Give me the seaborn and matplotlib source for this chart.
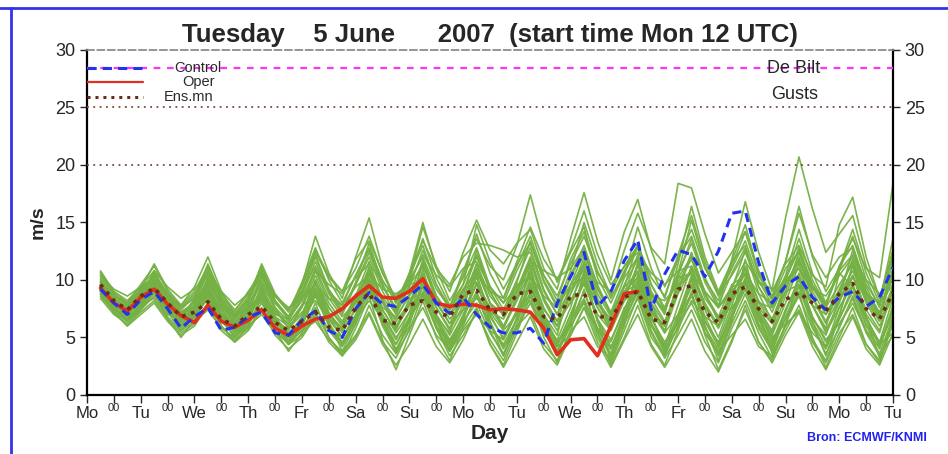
import numpy as np
import pandas as pd
import matplotlib
matplotlib.use("Agg")
import matplotlib.pyplot as plt
import seaborn as sns
from matplotlib.lines import Line2D

# forecast steps: every 6 h from Mon 18 UTC (day 0.25) to day 15
steps = np.arange(1, 61) * 0.25

day_names = ["Mo", "Tu", "We", "Th", "Fr", "Sa", "Su", "Mo", "Tu", "We", "Th", "Fr", "Sa", "Su", "Mo", "Tu"]

control = [9.2, 8.0, 7.0, 8.3, 9.0, 7.5, 5.8, 6.8, 7.6, 5.6, 5.9, 6.8,
           7.2, 5.4, 5.2, 6.5, 7.3, 5.6, 5.0, 7.5, 8.9, 7.9, 7.7, 8.6,
           9.6, 8.0, 7.1, 8.5, 7.0, 5.9, 5.4, 5.4, 5.8, 4.5, 8.0, 10.3,
           12.4, 7.7, 9.0, 11.7, 13.5, 7.4, 10.5, 12.6, 12.2, 10.3, 12.5, 15.8,
           16.0, 11.5, 8.0, 9.5, 10.3, 8.5, 7.4, 8.5, 9.0, 7.7, 8.5, 11.1]

oper = [9.3, 8.0, 7.3, 8.5, 9.2, 7.9, 6.9, 6.3, 7.8, 6.4, 5.9, 6.5,
        7.4, 5.8, 5.2, 6.0, 6.6, 6.8, 7.5, 8.6, 9.5, 8.5, 8.4, 9.0,
        10.1, 8.0, 7.7, 7.9, 7.8, 7.4, 7.5, 7.4, 7.2, 5.8, 3.5, 4.8,
        4.9, 3.4, 6.0, 8.8, 9.0]

ens_mean = [9.6, 8.2, 7.4, 8.6, 9.3, 8.0, 6.8, 7.2, 8.1, 6.6, 6.0, 7.0,
            7.7, 6.3, 5.6, 6.4, 7.2, 5.9, 5.6, 7.6, 8.9, 6.5, 6.2, 7.8,
            8.2, 7.2, 6.8, 8.8, 9.1, 7.4, 7.0, 8.8, 9.0, 6.8, 6.6, 8.6,
            8.8, 6.9, 6.6, 8.5, 9.0, 6.6, 6.3, 9.2, 9.5, 7.2, 6.3, 8.8,
            9.4, 7.5, 6.4, 8.3, 8.9, 8.0, 7.3, 8.8, 9.7, 7.5, 6.6, 8.9]

# ensemble members, one row per member (4 values per day: 18, 00, 06, 12 UTC)
members = [
    [10.2, 8.6, 7.8, 9.0, 10.0, 8.4, 7.0, 7.6, 9.0, 7.0, 6.2, 7.4, 8.4, 6.8, 6.0, 7.2, 8.2, 6.6, 5.8, 8.0,
     9.8, 7.6, 6.8, 8.6, 10.4, 8.2, 7.4, 9.2, 10.8, 8.0, 7.0, 9.6, 10.2, 7.4, 6.0, 8.8, 11.0, 8.0, 6.6, 9.4,
     10.6, 7.2, 6.0, 9.8, 11.8, 8.4, 6.8, 9.6, 10.4, 7.6, 6.2, 9.0, 9.6, 7.8, 7.0, 8.8, 10.8, 8.2, 6.4, 9.0],
    [8.6, 7.4, 6.6, 7.8, 8.4, 6.8, 5.6, 6.4, 7.4, 5.8, 5.0, 6.0, 7.0, 5.4, 4.6, 5.6, 6.4, 4.8, 3.8, 5.2,
     7.2, 4.6, 3.2, 5.8, 7.6, 5.2, 4.0, 6.4, 8.0, 5.4, 3.6, 6.0, 7.2, 4.4, 3.0, 5.6, 6.8, 4.2, 3.2, 6.2,
     8.4, 5.0, 3.4, 6.8, 8.8, 5.4, 3.8, 5.2, 6.6, 4.2, 3.4, 6.0, 7.4, 4.6, 2.8, 5.4, 7.0, 4.4, 3.0, 6.6],
    [10.8, 9.0, 8.0, 9.6, 11.2, 9.0, 7.6, 8.4, 11.4, 8.6, 7.2, 9.0, 10.6, 8.0, 6.8, 9.4, 12.6, 10.4, 9.0, 11.0,
     13.8, 10.6, 8.4, 10.0, 12.0, 9.2, 7.6, 10.8, 13.6, 11.2, 10.0, 13.0, 17.4, 13.0, 9.8, 12.4, 14.6, 10.2, 8.0, 10.6,
     12.8, 9.0, 7.2, 10.4, 13.6, 10.0, 8.2, 11.6, 14.8, 10.6, 8.4, 10.2, 12.6, 9.4, 7.6, 9.6, 11.4, 8.4, 6.6, 10.8],
    [9.4, 8.0, 7.2, 8.2, 9.6, 7.8, 6.4, 7.2, 10.2, 7.6, 5.8, 6.6, 9.6, 6.8, 5.2, 6.4, 9.2, 6.6, 5.0, 6.8,
     10.6, 7.4, 5.4, 7.2, 11.8, 8.6, 6.6, 8.0, 10.2, 7.2, 5.6, 7.0, 8.8, 6.2, 4.8, 7.6, 11.6, 8.2, 6.0, 8.8,
     12.2, 8.0, 5.4, 7.0, 9.4, 6.4, 4.6, 7.8, 11.0, 7.0, 4.8, 6.6, 9.0, 6.6, 5.2, 8.4, 12.6, 9.0, 6.8, 11.8],
    [9.8, 8.4, 7.6, 8.8, 9.2, 7.4, 6.0, 7.0, 8.6, 6.8, 5.6, 6.8, 9.2, 7.2, 6.2, 7.8, 10.8, 8.0, 6.4, 8.6,
     11.6, 8.2, 6.0, 8.0, 9.8, 7.0, 5.2, 7.4, 11.4, 8.6, 7.2, 9.2, 12.0, 8.4, 6.4, 8.0, 9.6, 7.0, 5.6, 8.2,
     11.4, 8.6, 7.4, 10.6, 13.2, 9.8, 7.6, 9.4, 11.6, 9.8, 9.2, 15.4, 20.7, 16.2, 12.4, 14.0, 15.6, 11.2, 8.4, 12.0],
    [9.0, 7.6, 6.8, 7.6, 8.8, 7.2, 6.2, 7.0, 9.2, 7.0, 5.4, 6.2, 8.0, 6.0, 4.8, 5.8, 7.6, 5.6, 4.2, 6.2,
     9.0, 6.2, 4.4, 6.8, 9.4, 6.4, 4.6, 6.2, 8.6, 6.0, 4.4, 6.6, 9.8, 6.6, 4.6, 6.0, 8.2, 5.6, 4.0, 7.0,
     10.0, 6.6, 4.6, 6.4, 8.6, 5.8, 4.0, 6.8, 9.2, 6.0, 4.0, 7.2, 10.2, 6.8, 4.8, 6.2, 8.0, 5.6, 4.2, 7.4],
    [10.6, 8.8, 7.8, 9.2, 11.4, 9.2, 7.8, 9.4, 12.0, 9.0, 7.0, 8.6, 11.2, 8.2, 6.6, 9.6, 13.8, 10.6, 8.4, 12.0,
     15.4, 11.0, 8.0, 10.4, 13.0, 9.6, 7.4, 9.6, 12.2, 9.0, 7.0, 9.8, 13.4, 9.8, 7.6, 10.2, 12.6, 9.2, 7.0, 9.6,
     11.8, 8.4, 6.4, 9.2, 12.4, 8.8, 6.6, 8.6, 11.2, 8.0, 6.2, 9.0, 12.4, 9.0, 7.0, 9.2, 11.6, 8.6, 6.8, 9.4],
    [9.2, 7.2, 6.0, 7.4, 9.0, 6.6, 5.0, 6.6, 8.8, 6.0, 4.6, 6.0, 8.6, 5.6, 3.8, 5.4, 8.0, 5.0, 3.4, 5.8,
     8.6, 4.8, 2.2, 5.2, 8.2, 5.0, 3.0, 5.8, 7.6, 4.4, 2.6, 5.4, 8.6, 5.0, 2.8, 5.6, 9.2, 5.4, 2.6, 5.0,
     7.8, 4.4, 2.6, 5.6, 9.0, 5.2, 2.2, 4.8, 7.4, 4.6, 3.0, 6.2, 8.8, 5.0, 2.4, 5.0, 7.6, 4.4, 2.8, 6.2],
    [9.6, 8.2, 7.2, 8.4, 10.4, 8.4, 7.0, 8.2, 10.8, 8.2, 6.6, 7.8, 10.0, 7.6, 6.4, 8.6, 11.6, 8.8, 7.0, 9.6,
     12.4, 9.4, 7.6, 10.2, 14.6, 11.2, 9.0, 12.4, 15.2, 12.6, 11.4, 13.2, 14.4, 11.0, 9.2, 13.6, 17.6, 13.4, 10.0, 14.2,
     17.0, 12.6, 9.4, 12.0, 13.8, 10.2, 7.8, 10.6, 12.8, 9.4, 7.6, 10.0, 13.6, 10.0, 7.8, 10.8, 12.2, 9.0, 7.2, 10.2],
    [9.0, 7.8, 7.0, 8.0, 9.8, 8.0, 6.8, 7.8, 9.4, 7.2, 6.0, 7.2, 8.8, 6.6, 5.4, 6.6, 9.8, 7.0, 5.4, 7.6,
     10.2, 7.0, 5.0, 6.6, 8.6, 6.0, 4.4, 7.0, 9.6, 6.8, 5.0, 7.4, 10.6, 7.0, 4.6, 6.4, 8.4, 5.4, 3.4, 6.6,
     9.2, 6.2, 4.2, 7.8, 11.2, 7.4, 5.0, 8.4, 10.0, 7.0, 5.2, 8.0, 11.4, 7.8, 5.4, 7.6, 9.6, 6.6, 4.6, 8.4],
    [10.0, 8.4, 7.4, 8.6, 9.4, 7.6, 6.4, 7.6, 9.8, 7.8, 6.4, 7.6, 10.4, 8.0, 6.6, 8.2, 11.0, 8.4, 6.8, 8.0,
     10.8, 8.2, 6.6, 8.8, 11.6, 8.6, 7.0, 9.0, 12.0, 9.4, 8.0, 10.8, 13.2, 10.4, 8.6, 11.4, 13.8, 10.6, 8.8, 12.6,
     15.8, 12.8, 11.4, 18.4, 18.0, 14.0, 10.6, 12.4, 14.2, 10.4, 8.2, 11.0, 12.4, 9.6, 7.8, 11.2, 13.6, 11.0, 10.2, 18.4],
    [8.8, 7.6, 6.8, 7.8, 9.0, 7.4, 6.0, 6.8, 8.4, 6.4, 5.2, 6.4, 9.4, 6.8, 5.0, 6.0, 8.6, 6.0, 4.4, 6.6,
     9.6, 6.4, 4.0, 6.0, 10.2, 6.8, 4.8, 6.8, 9.0, 6.2, 4.2, 5.8, 8.0, 5.4, 3.8, 6.6, 10.4, 6.6, 4.2, 6.4,
     9.0, 5.6, 3.4, 6.0, 10.0, 6.4, 4.2, 7.4, 9.6, 6.2, 4.4, 6.6, 8.6, 5.8, 4.0, 6.6, 9.4, 6.2, 4.4, 7.0],
    [10.4, 8.8, 7.8, 8.8, 10.6, 8.6, 7.2, 8.0, 10.0, 7.8, 6.2, 7.4, 9.8, 7.4, 5.8, 7.6, 10.4, 7.6, 6.0, 8.4,
     11.0, 8.0, 5.8, 7.8, 11.4, 8.2, 6.2, 8.6, 12.6, 9.0, 6.8, 9.0, 11.8, 8.4, 6.4, 9.6, 12.4, 8.8, 6.8, 9.4,
     13.2, 9.6, 7.4, 10.2, 12.0, 9.0, 7.6, 11.8, 16.8, 12.4, 9.0, 11.4, 13.0, 10.4, 9.4, 14.8, 17.2, 12.0, 8.4, 12.6],
    [8.4, 7.0, 6.2, 7.2, 8.2, 6.6, 5.4, 6.2, 8.0, 6.0, 4.8, 5.8, 7.6, 5.6, 4.4, 5.6, 7.2, 5.0, 3.6, 5.0,
     7.8, 5.2, 3.6, 5.6, 8.8, 5.8, 3.4, 5.2, 7.2, 4.8, 3.0, 5.8, 9.0, 5.8, 3.6, 6.0, 8.0, 5.0, 2.8, 5.6,
     8.6, 5.4, 3.2, 5.2, 7.4, 4.6, 2.8, 5.8, 8.2, 5.4, 3.2, 5.6, 7.8, 4.8, 3.0, 6.0, 8.4, 5.4, 3.4, 5.2],
    [9.2, 7.8, 7.0, 8.4, 10.8, 8.6, 7.2, 8.0, 10.6, 8.4, 7.0, 8.2, 11.4, 8.8, 7.4, 9.0, 11.2, 9.0, 7.8, 10.4,
     12.8, 10.0, 8.0, 10.6, 13.4, 11.0, 9.6, 12.0, 13.2, 13.0, 12.6, 12.0, 12.4, 9.0, 7.0, 9.2, 11.2, 8.0, 6.0, 8.6,
     10.8, 7.6, 5.6, 8.8, 11.0, 7.8, 5.8, 8.2, 10.6, 7.4, 5.4, 8.6, 11.8, 8.4, 6.2, 8.4, 10.4, 7.4, 5.6, 9.2],
    [9.4, 8.0, 7.4, 8.6, 9.6, 8.0, 6.8, 7.4, 9.6, 7.4, 6.0, 7.0, 10.4, 7.6, 5.8, 7.0, 10.0, 7.2, 5.6, 7.4,
     11.2, 8.2, 6.4, 8.0, 10.6, 7.6, 5.8, 8.4, 11.4, 8.0, 5.8, 8.2, 10.8, 7.6, 5.6, 8.8, 12.0, 8.4, 6.2, 9.0,
     10.2, 7.4, 6.0, 9.4, 10.6, 7.6, 6.0, 9.2, 12.6, 8.8, 6.4, 9.8, 11.0, 7.8, 5.6, 8.0, 11.2, 8.0, 6.0, 8.6],
    [9.0, 7.6, 6.6, 7.8, 9.4, 7.4, 6.2, 7.2, 9.0, 6.8, 5.4, 6.6, 9.0, 6.6, 5.2, 6.8, 9.4, 6.8, 5.0, 7.0,
     10.0, 6.8, 4.8, 7.2, 9.4, 6.6, 4.6, 6.8, 10.4, 7.0, 4.8, 7.2, 9.4, 6.4, 4.2, 7.0, 9.8, 6.6, 4.8, 7.4,
     10.4, 6.8, 4.4, 6.2, 8.0, 5.4, 3.6, 6.6, 9.8, 6.6, 4.6, 7.4, 10.0, 6.8, 4.6, 6.6, 9.0, 6.0, 4.0, 7.8],
    [10.6, 9.0, 8.2, 9.4, 10.2, 8.6, 7.6, 8.8, 10.4, 8.0, 6.6, 8.0, 10.8, 8.2, 6.8, 8.8, 12.2, 9.2, 7.4, 9.6,
     12.0, 9.0, 7.0, 9.4, 12.6, 9.6, 7.6, 10.4, 14.0, 10.6, 8.4, 11.2, 13.8, 10.4, 8.2, 11.8, 14.2, 10.8, 8.4, 10.8,
     13.0, 9.6, 7.6, 10.6, 15.2, 11.2, 8.6, 11.0, 13.4, 10.0, 7.8, 10.4, 14.4, 10.6, 8.0, 10.8, 13.8, 10.0, 7.6, 12.4],
    [9.8, 8.2, 7.2, 8.2, 10.0, 7.8, 6.4, 7.4, 9.2, 7.0, 5.6, 6.8, 8.6, 6.4, 5.0, 6.2, 8.8, 6.2, 4.6, 6.4,
     9.4, 6.0, 3.8, 6.4, 9.0, 6.0, 3.8, 6.0, 8.8, 5.6, 3.4, 6.2, 9.6, 6.2, 3.6, 6.4, 9.0, 5.8, 3.6, 6.8,
     9.8, 6.2, 3.6, 6.6, 9.6, 6.0, 3.4, 6.2, 8.8, 5.8, 3.8, 6.8, 9.4, 6.0, 3.6, 5.8, 8.6, 5.6, 3.6, 6.8],
    [10.0, 8.4, 7.6, 9.0, 10.6, 8.8, 7.4, 8.6, 11.0, 8.4, 6.8, 8.4, 10.8, 8.2, 6.8, 9.0, 12.0, 9.0, 7.2, 9.8,
     13.2, 9.6, 7.2, 10.6, 15.0, 11.0, 8.2, 10.2, 12.8, 9.4, 7.4, 10.0, 12.8, 9.2, 7.0, 10.4, 13.0, 9.4, 7.2, 10.2,
     12.0, 8.8, 7.0, 11.4, 16.4, 12.0, 9.0, 11.6, 13.0, 9.4, 7.2, 10.0, 12.8, 9.6, 7.8, 11.2, 13.0, 9.4, 7.0, 11.0],
    [9.6, 8.6, 8.0, 8.8, 9.8, 8.2, 7.0, 7.8, 8.8, 7.6, 6.8, 7.6, 8.2, 7.0, 6.6, 8.4, 9.6, 8.4, 7.8, 9.4,
     10.4, 9.2, 8.8, 9.6, 10.0, 8.0, 6.2, 7.4, 8.4, 7.2, 6.6, 8.8, 11.6, 10.8, 10.2, 11.0, 12.8, 9.6, 7.0, 8.2,
     9.4, 8.6, 8.2, 9.6, 10.8, 8.8, 6.8, 7.6, 9.2, 8.0, 7.6, 9.8, 11.6, 9.4, 7.4, 8.2, 10.2, 8.8, 8.0, 9.6],
    [8.8, 7.2, 6.4, 7.4, 8.6, 7.0, 6.6, 7.4, 8.2, 6.6, 5.6, 6.8, 8.8, 6.2, 4.4, 5.2, 7.0, 5.8, 5.0, 6.6,
     8.2, 6.6, 5.8, 7.8, 8.6, 5.8, 3.8, 5.6, 7.0, 5.6, 4.8, 7.2, 8.2, 6.0, 4.2, 5.2, 7.6, 5.8, 4.6, 7.6,
     8.8, 6.0, 4.0, 5.8, 8.2, 6.8, 6.0, 8.6, 9.8, 7.2, 5.0, 6.2, 7.2, 5.4, 4.2, 7.6, 9.6, 6.6, 4.4, 5.4],
    [10.4, 9.2, 8.6, 9.4, 10.8, 9.4, 8.4, 9.2, 10.6, 9.0, 7.8, 8.8, 10.2, 8.6, 7.6, 8.4, 10.8, 9.6, 8.8, 10.2,
     11.4, 9.8, 8.6, 9.8, 12.2, 10.4, 9.4, 11.0, 11.6, 9.4, 8.0, 9.4, 10.4, 8.6, 7.6, 9.6, 11.4, 9.8, 9.0, 11.2,
     12.4, 10.6, 9.6, 10.8, 11.2, 9.0, 7.6, 9.0, 10.6, 8.8, 8.0, 10.0, 11.0, 9.2, 8.6, 10.4, 12.0, 10.0, 8.8, 10.0],
    [9.4, 7.6, 6.4, 7.6, 10.2, 7.6, 5.8, 7.0, 9.6, 6.8, 5.0, 6.4, 9.2, 6.2, 4.6, 6.6, 10.0, 6.4, 3.8, 6.2,
     10.8, 6.6, 3.6, 6.6, 11.0, 6.8, 3.8, 6.4, 10.6, 6.4, 3.4, 6.8, 11.2, 6.8, 3.8, 6.2, 10.8, 6.4, 3.0, 6.0,
     11.6, 7.0, 3.8, 6.6, 10.2, 6.0, 3.0, 6.4, 11.8, 7.0, 3.6, 6.0, 10.6, 6.4, 3.4, 6.8, 11.4, 6.8, 3.2, 6.4],
    [9.0, 7.8, 7.2, 8.6, 9.2, 7.8, 6.8, 8.2, 9.8, 7.8, 6.2, 7.4, 9.0, 7.2, 6.2, 7.8, 9.8, 7.6, 6.2, 8.2,
     10.6, 8.4, 7.2, 9.6, 11.2, 8.6, 7.0, 8.2, 10.6, 9.0, 8.4, 11.6, 14.6, 11.8, 10.0, 12.6, 16.0, 12.2, 9.6, 11.2,
     13.0, 10.2, 8.6, 11.8, 14.4, 11.0, 8.8, 10.4, 12.4, 9.8, 8.4, 11.6, 15.8, 12.2, 10.2, 12.0, 12.8, 9.6, 7.8, 12.6],
    [8.6, 7.2, 6.0, 7.0, 8.0, 6.4, 5.2, 6.0, 7.8, 5.6, 4.6, 5.6, 7.4, 5.2, 4.0, 5.0, 6.8, 4.6, 3.4, 4.8,
     7.0, 4.4, 2.6, 4.4, 6.6, 4.2, 2.8, 4.8, 7.4, 4.4, 2.4, 4.6, 6.8, 4.0, 2.6, 5.2, 7.6, 4.6, 2.4, 4.8,
     7.0, 4.2, 2.4, 4.4, 6.6, 3.8, 2.0, 4.6, 7.8, 4.6, 2.8, 5.2, 7.2, 4.2, 2.2, 4.6, 6.8, 4.0, 2.6, 5.4],
    [9.4, 8.4, 7.6, 9.2, 9.0, 7.6, 6.6, 8.4, 8.4, 7.0, 6.0, 8.0, 8.0, 6.6, 5.6, 7.8, 8.6, 7.0, 5.8, 8.8,
     9.2, 7.4, 5.6, 8.4, 8.8, 6.8, 5.4, 9.2, 9.8, 7.6, 5.8, 8.6, 9.2, 7.0, 5.2, 9.6, 10.2, 7.6, 5.6, 9.0,
     9.6, 7.2, 5.4, 10.2, 10.6, 8.0, 6.0, 9.4, 9.8, 7.4, 5.6, 9.8, 10.4, 7.8, 5.8, 10.6, 9.4, 7.0, 5.4, 9.6],
    [9.8, 8.6, 8.0, 9.2, 10.4, 8.8, 7.8, 9.0, 11.2, 8.8, 7.4, 8.8, 11.0, 8.6, 7.2, 9.8, 12.8, 10.0, 8.0, 10.4,
     12.6, 9.6, 7.4, 10.0, 13.6, 10.2, 7.8, 9.6, 14.8, 11.6, 9.2, 11.4, 13.2, 10.0, 7.8, 10.8, 15.0, 11.4, 8.6, 10.4,
     14.6, 11.0, 8.4, 12.2, 15.6, 11.6, 8.8, 11.2, 14.2, 10.8, 8.6, 11.6, 16.4, 12.0, 9.0, 11.0, 14.4, 10.6, 8.0, 13.6],
    [9.0, 7.4, 6.4, 7.6, 9.4, 7.2, 5.6, 6.8, 9.0, 6.6, 5.0, 6.2, 8.4, 6.0, 4.4, 6.0, 9.0, 6.2, 4.4, 6.6,
     9.8, 6.6, 4.4, 6.4, 9.6, 6.4, 4.2, 6.6, 9.8, 6.4, 4.0, 6.6, 10.2, 6.8, 4.4, 7.0, 10.0, 6.4, 4.0, 7.2,
     9.4, 6.2, 4.2, 7.0, 10.4, 6.8, 4.4, 7.0, 10.2, 6.6, 4.2, 7.4, 9.6, 6.4, 4.2, 7.0, 10.4, 6.8, 4.4, 7.6],
    [9.6, 8.0, 7.0, 8.0, 9.8, 7.8, 6.6, 7.6, 10.2, 8.0, 6.8, 8.2, 10.8, 8.6, 7.4, 9.4, 12.4, 10.2, 9.0, 11.8,
     13.4, 10.6, 8.2, 9.2, 10.4, 7.6, 5.6, 7.8, 11.0, 8.0, 6.0, 8.4, 11.4, 8.2, 6.0, 8.2, 10.6, 7.6, 5.8, 8.6,
     11.2, 8.0, 6.2, 9.0, 12.2, 8.8, 6.4, 8.8, 11.0, 8.2, 6.6, 9.4, 12.0, 8.6, 6.4, 9.0, 11.8, 8.8, 7.0, 10.6],
]

green = "#74b043"
blue = "#2233ee"
red = "#e2301e"
brown = "#6e2c16"

sns.set_theme(style="white")
plt.rcParams["font.family"] = ["Liberation Sans", "DejaVu Sans"]

fig = plt.figure(figsize=(9.48, 4.54), dpi=100)
ax = fig.add_axes([0.0918, 0.130, 0.8502, 0.760])

ens = pd.DataFrame([(m, t, v) for m, row in enumerate(members) for t, v in zip(steps, row)],
                   columns=["member", "day", "gust"])
sns.lineplot(data=ens, x="day", y="gust", units="member", estimator=None,
             color=green, lw=1.2, alpha=0.95, ax=ax, legend=False)

ax.axhline(28.4, color="#ff33ff", ls=(0, (3, 3)), lw=1.6, zorder=3)
for lev in (25, 20):
    ax.axhline(lev, color="#7a4a3a", ls=(0, (1, 2.5)), lw=1.3, zorder=3)

sns.lineplot(x=steps[:len(oper)], y=oper, color=red, lw=2.6, ax=ax, zorder=5)
sns.lineplot(x=steps, y=control, color=blue, lw=2.2, ls=(0, (3, 2)), ax=ax, zorder=6)
sns.lineplot(x=steps, y=ens_mean, color=brown, lw=2.6, ls=(0, (1, 1.6)), ax=ax, zorder=7)

# key in the upper left corner
key = [("Control", blue, (0, (3, 2)), 0.948, 0.138), ("Oper", red, "-", 0.907, 0.138),
       ("Ens.mn", brown, (0, (1, 1.6)), 0.864, 0.126)]
for name, col, style, yk, xk in key:
    ax.add_line(Line2D([0.0, 0.07], [yk, yk], transform=ax.transAxes, color=col, ls=style,
                       lw=2.2 if name != "Oper" else 1.6, zorder=8))
    ax.text(xk, yk, name, transform=ax.transAxes, ha="center", va="center", fontsize=10.5,
            color="#2a2a2a", zorder=9)

ax.text(0.877, 0.945, "De Bilt", transform=ax.transAxes, ha="center", va="center", fontsize=13)
ax.text(0.878, 0.870, "Gusts", transform=ax.transAxes, ha="center", va="center", fontsize=13)

ax.set_xlim(0, 15)
ax.set_ylim(0, 30)
ax.set_xticks(np.arange(16))
ax.set_xticklabels(day_names)
ax.set_xticks(np.arange(15) + 0.5, minor=True)
ax.set_xticklabels(["00"] * 15, minor=True)
ax.tick_params(axis="x", which="major", direction="out", length=6, width=1, pad=2, labelsize=12, bottom=True)
ax.tick_params(axis="x", which="minor", direction="out", length=6, width=1, pad=0, labelsize=8, bottom=True)
ax.set_yticks(np.arange(0, 31, 5))
ax.tick_params(axis="y", which="both", direction="out", length=5, width=1, labelsize=13,
               left=True, right=True, labelright=True)

for side in ("left", "right", "bottom"):
    ax.spines[side].set_color("black")
    ax.spines[side].set_linewidth(1.6)
ax.spines["top"].set_color("#888888")
ax.spines["top"].set_linestyle((0, (4, 2)))

ax.set_xlabel("Day", fontsize=15, fontweight="bold", labelpad=2)
ax.set_ylabel("m/s", fontsize=14, fontweight="bold", labelpad=6)
ax.set_title("Tuesday    5 June      2007  (start time Mon 12 UTC)",
             fontsize=18.5, fontweight="bold", pad=6)

fig.text(0.915, 0.035, "Bron: ECMWF/KNMI", color="#2222ee", fontsize=9, fontweight="bold",
         ha="center", va="center")

# blue frame of the page
fig.add_artist(Line2D([0, 1], [1 - 8 / 454, 1 - 8 / 454], color="#3333ee", lw=2))
fig.add_artist(Line2D([11 / 948, 11 / 948], [0, 1 - 8 / 454], color="#3333ee", lw=2))

fig.savefig("out.png", dpi=100)
